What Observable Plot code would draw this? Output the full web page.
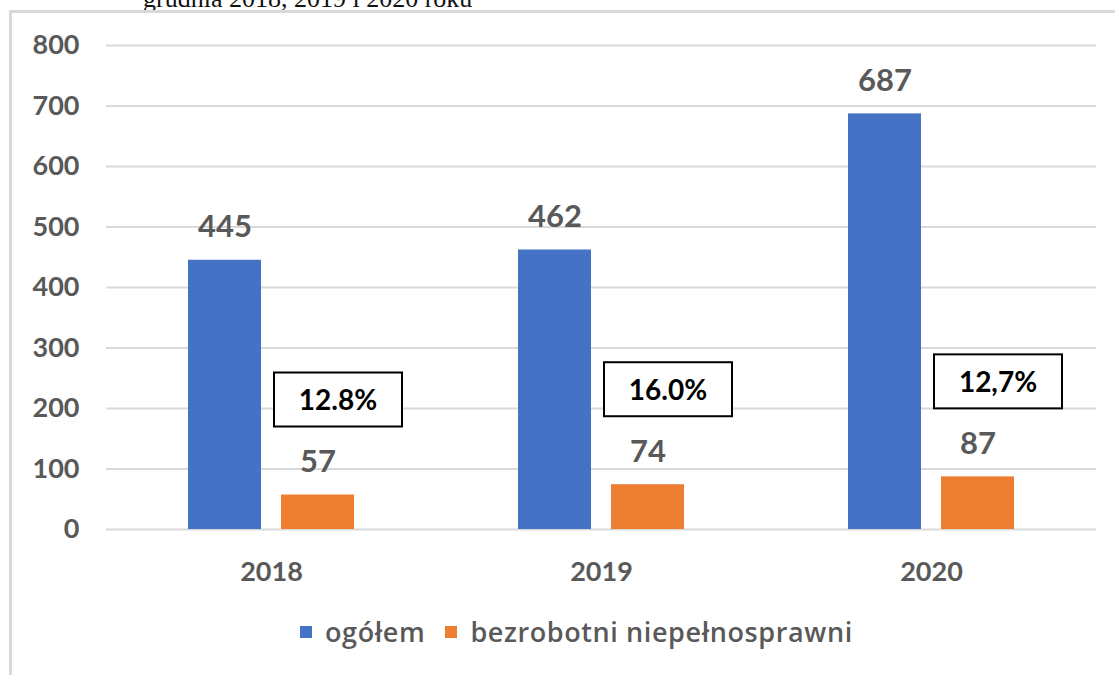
<!DOCTYPE html>
<html>
<head>
<meta charset="utf-8">
<script src="https://cdn.jsdelivr.net/npm/d3@7"></script>
<script src="https://cdn.jsdelivr.net/npm/@observablehq/plot@0.6"></script>
<style>
  html, body { margin: 0; padding: 0; background: #fff; overflow: hidden; width: 1115px; height: 675px; }
  #title { position: absolute; left: 143px; top: -14px; font: 26px "Liberation Serif", serif; line-height: 26px; color: #111; white-space: nowrap; }
  #frame { position: absolute; left: 9px; top: 10px; width: 1300px; height: 900px; border-left: 3px solid #d9d9d9; border-top: 3px solid #d9d9d9; box-sizing: border-box; }
  #chart { position: absolute; left: 0; top: 0; }
  #legend { position: absolute; top: 613px; left: 300px; display: flex; align-items: center; font: 600 27px "Open Sans", sans-serif; letter-spacing: 0.6px; color: #595959; white-space: nowrap; }
  .sw { display: inline-block; width: 12px; height: 12px; margin-right: 13px; }
  .item { display: flex; align-items: center; margin-right: 20px; }
</style>
</head>
<body>
<div id="title">grudnia 2018, 2019 i 2020 roku</div>
<div id="frame"></div>
<div id="chart"></div>
<div id="legend"></div>
<script>
const years = ["2018", "2019", "2020"];
const seriesNames = ["ogółem", "bezrobotni niepełnosprawni"];
const totalValues = [445, 462, 687];
const disabledValues = [57, 74, 87];
const shareLabels = ["12.8%", "16.0%", "12,7%"];
const yTicks = [0, 100, 200, 300, 400, 500, 600, 700, 800];
const colors = ["#4472C4", "#ED7D31"];

const rows = [];
years.forEach((y, i) => {
  rows.push({year: y, series: seriesNames[0], value: totalValues[i]});
  rows.push({year: y, series: seriesNames[1], value: disabledValues[i]});
});
const shares = years.map((y, i) => ({year: y, series: seriesNames[1], value: disabledValues[i], label: shareLabels[i]}));

const fontFamily = "Lato, sans-serif";

const plot = Plot.plot({
  width: 1115,
  height: 600,
  marginLeft: 105,
  marginRight: 18,
  marginTop: 45,
  marginBottom: 71,
  style: {background: "transparent", fontFamily},
  fx: {domain: years, padding: 0, label: null},
  x: {domain: seriesNames, paddingInner: 0.213, paddingOuter: 0.862, axis: null},
  y: {domain: [0, 800], axis: null},
  color: {domain: seriesNames, range: colors},
  marks: [
    Plot.ruleY(yTicks, {stroke: "#d9d9d9", strokeWidth: 2}),
    Plot.axisY({ticks: yTicks, tickSize: 0, tickPadding: 27, fontSize: 27, fontWeight: 700, fill: "#595959", label: null, tickFormat: d => String(d)}),
    Plot.axisFx({anchor: "bottom", tickSize: 0, tickPadding: 32, fontSize: 27, fontWeight: 700, fill: "#595959", label: null}),
    Plot.barY(rows, {fx: "year", x: "series", y: "value", fill: "series"}),
    Plot.text(rows, {fx: "year", x: "series", y: "value", text: d => String(d.value), dy: -33, fill: "#595959", fontSize: 31, fontWeight: 700, fontFamily}),
    Plot.barY(shares, {fx: "year", x: "series", y1: "value", y2: "value", insetTop: -122, insetBottom: 68, insetLeft: -7, insetRight: -48, fill: "white", stroke: "black", strokeWidth: 2}),
    Plot.text(shares, {fx: "year", x: "series", y: "value", text: "label", dy: -94, dx: 20, fill: "black", fontSize: 28, fontWeight: 700, fontFamily})
  ]
});
document.getElementById("chart").appendChild(plot);

const legend = document.getElementById("legend");
seriesNames.forEach((name, i) => {
  const item = document.createElement("span");
  item.className = "item";
  const sw = document.createElement("span");
  sw.className = "sw";
  sw.style.background = colors[i];
  item.appendChild(sw);
  item.appendChild(document.createTextNode(name));
  legend.appendChild(item);
});
</script>
</body>
</html>
